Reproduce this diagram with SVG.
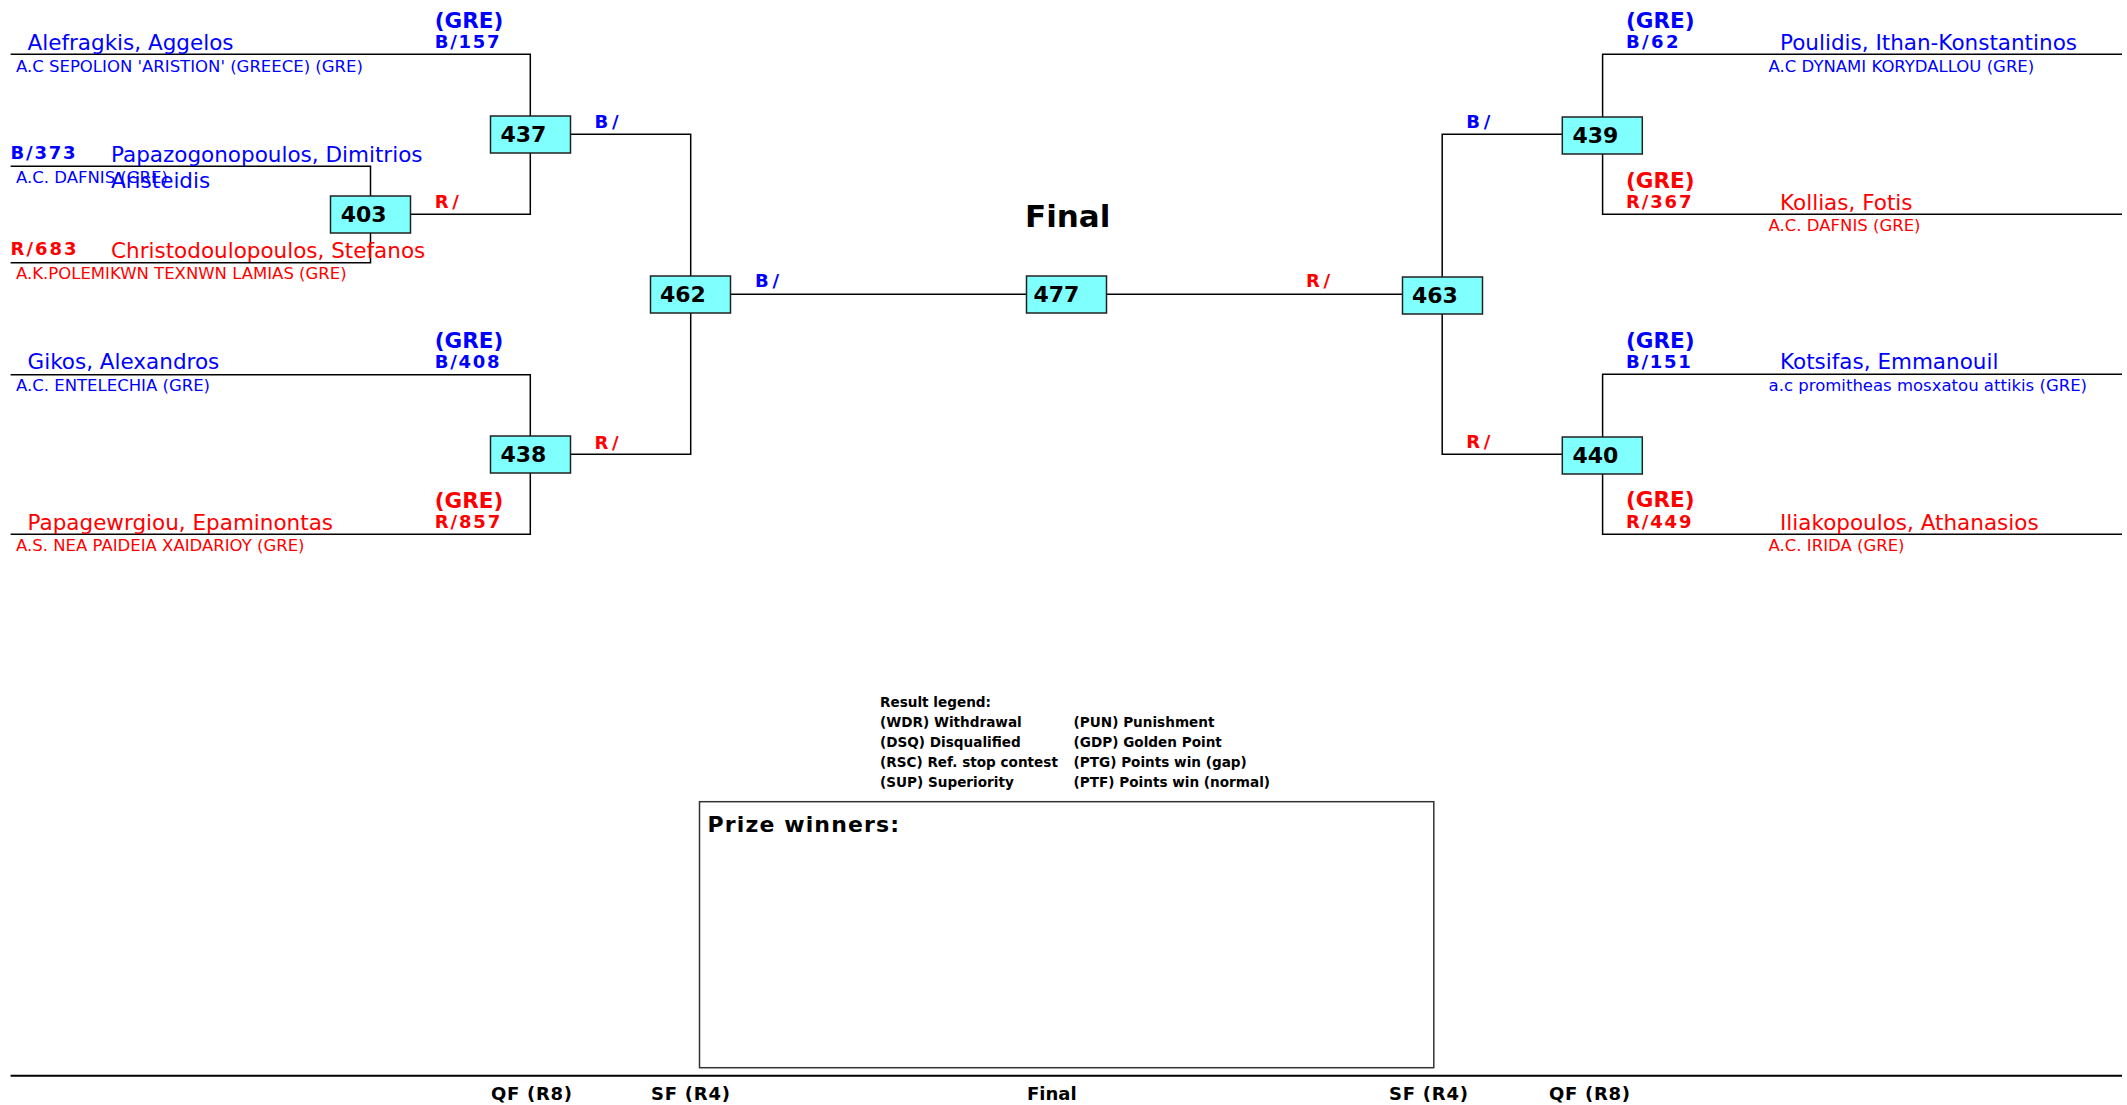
<svg xmlns="http://www.w3.org/2000/svg" width="2127" height="1105" viewBox="0 0 2127 1105">
<style>
text{font-family:"DejaVu Sans",Verdana,sans-serif}
.ln{stroke:#000;stroke-width:1.5;fill:none}
.box{fill:#80FFFF;stroke:#222;stroke-width:1.5}
.num{font-size:22px;font-weight:bold;fill:#000}
.nm{font-size:21.5px}
.cl{font-size:16.5px}
.sd{font-size:18px;font-weight:bold}
.cn{font-size:21.5px;font-weight:bold}
.b{fill:#0000FF}
.r{fill:#FF0000}
.lg{font-size:13.6px;font-weight:bold;fill:#000}
.rd{font-size:18px;font-weight:bold;fill:#000}
</style>
<rect width="2127" height="1105" fill="#fff"/>
<g id="connectors">
<path class="ln" d="M10.6 54.3H530.3V214.3H410"/>
<path class="ln" d="M10.6 166.3H370.5V262.7H10.6"/>
<path class="ln" d="M10.6 374.7H530.3V534.3H10.6"/>
<path class="ln" d="M570.7 134.3H690.7V454.3H570.7"/>
<path class="ln" d="M690.7 294.3H1442.2"/>
<path class="ln" d="M1562.3 134.3H1442.2V454.3H1562.3"/>
<path class="ln" d="M2122 54.3H1602.6V214.3H2122"/>
<path class="ln" d="M2122 374.3H1602.6V534.3H2122"/>
<path d="M10.6 1075.7H2122" stroke="#000" stroke-width="2"/>
</g>
<g id="n437"><rect class="box" x="490.5" y="116" width="80" height="37"/><text class="num" x="500.5" y="141.5">437</text></g>
<g id="n403"><rect class="box" x="330.5" y="196" width="80" height="37"/><text class="num" x="340.7" y="221.5">403</text></g>
<g id="n438"><rect class="box" x="490.5" y="436" width="80" height="37"/><text class="num" x="500.5" y="461.5">438</text></g>
<g id="n462"><rect class="box" x="650.5" y="276" width="80" height="37"/><text class="num" x="660" y="301.5">462</text></g>
<g id="n477"><rect class="box" x="1026.5" y="276" width="80" height="37"/><text class="num" x="1033.5" y="301.5">477</text></g>
<g id="n463"><rect class="box" x="1402.5" y="277" width="80" height="37"/><text class="num" x="1412" y="302.5">463</text></g>
<g id="n439"><rect class="box" x="1562.3" y="117" width="80" height="37"/><text class="num" x="1572.5" y="142.5">439</text></g>
<g id="n440"><rect class="box" x="1562.3" y="437" width="80" height="37"/><text class="num" x="1572.5" y="462.5">440</text></g>
<g id="labels">
<text class="sd b" x="594.6" y="128.3" textLength="24" lengthAdjust="spacing">B/</text>
<text class="sd r" x="434.8" y="208.3" textLength="24" lengthAdjust="spacing">R/</text>
<text class="sd r" x="594.6" y="449.3" textLength="24" lengthAdjust="spacing">R/</text>
<text class="sd b" x="755" y="287.3" textLength="24" lengthAdjust="spacing">B/</text>
<text class="sd r" x="1306" y="287.3" textLength="24" lengthAdjust="spacing">R/</text>
<text class="sd b" x="1466.3" y="128.3" textLength="24" lengthAdjust="spacing">B/</text>
<text class="sd r" x="1466.3" y="448.3" textLength="24" lengthAdjust="spacing">R/</text>
</g>
<g id="competitors-left">
<text class="cn b" x="434.8" y="28.3">(GRE)</text>
<text class="sd b" x="434.8" y="48.3" textLength="64.7" lengthAdjust="spacing">B/157</text>
<text class="nm b" x="27.5" y="50">Alefragkis, Aggelos</text>
<text class="cl b" x="16" y="71.7">A.C SEPOLION 'ARISTION' (GREECE) (GRE)</text>
<text class="sd b" x="10.6" y="159.3" textLength="65" lengthAdjust="spacing">B/373</text>
<text class="nm b" x="111" y="161.7">Papazogonopoulos, Dimitrios</text>
<text class="nm b" x="111" y="187.7">Aristeidis</text>
<text class="cl b" x="16" y="183.3">A.C. DAFNIS (GRE)</text>
<text class="sd r" x="10.6" y="255" textLength="66" lengthAdjust="spacing">R/683</text>
<text class="nm r" x="111" y="257.7">Christodoulopoulos, Stefanos</text>
<text class="cl r" x="16" y="279.3">A.K.POLEMIKWN TEXNWN LAMIAS (GRE)</text>
<text class="cn b" x="434.8" y="348.3">(GRE)</text>
<text class="sd b" x="434.8" y="367.7" textLength="64.7" lengthAdjust="spacing">B/408</text>
<text class="nm b" x="27.5" y="369.3">Gikos, Alexandros</text>
<text class="cl b" x="16" y="390.7">A.C. ENTELECHIA (GRE)</text>
<text class="cn r" x="434.8" y="508.3">(GRE)</text>
<text class="sd r" x="434.8" y="527.7" textLength="65.5" lengthAdjust="spacing">R/857</text>
<text class="nm r" x="27.5" y="530">Papagewrgiou, Epaminontas</text>
<text class="cl r" x="16" y="550.7">A.S. NEA PAIDEIA XAIDARIOY (GRE)</text>
</g>
<g id="competitors-right">
<text class="cn b" x="1626" y="28.3">(GRE)</text>
<text class="sd b" x="1626" y="48.3" textLength="52.5" lengthAdjust="spacing">B/62</text>
<text class="nm b" x="1780" y="50">Poulidis, Ithan-Konstantinos</text>
<text class="cl b" x="1768.6" y="71.7">A.C DYNAMI KORYDALLOU (GRE)</text>
<text class="cn r" x="1626" y="188.3">(GRE)</text>
<text class="sd r" x="1626" y="208.3" textLength="65.5" lengthAdjust="spacing">R/367</text>
<text class="nm r" x="1780" y="210">Kollias, Fotis</text>
<text class="cl r" x="1768.6" y="231">A.C. DAFNIS (GRE)</text>
<text class="cn b" x="1626" y="348.3">(GRE)</text>
<text class="sd b" x="1626" y="367.7" textLength="64.7" lengthAdjust="spacing">B/151</text>
<text class="nm b" x="1780" y="369.3">Kotsifas, Emmanouil</text>
<text class="cl b" x="1768.6" y="390.7">a.c promitheas mosxatou attikis (GRE)</text>
<text class="cn r" x="1626" y="506.7">(GRE)</text>
<text class="sd r" x="1626" y="527.7" textLength="65.5" lengthAdjust="spacing">R/449</text>
<text class="nm r" x="1780" y="530">Iliakopoulos, Athanasios</text>
<text class="cl r" x="1768.6" y="550.7">A.C. IRIDA (GRE)</text>
</g>
<text x="1025" y="227.3" font-size="31" font-weight="bold" fill="#000">Final</text>
<g id="legend">
<text class="lg" x="880" y="707.3">Result legend:</text>
<text class="lg" x="880" y="726.7">(WDR) Withdrawal</text>
<text class="lg" x="880" y="746.7">(DSQ) Disqualified</text>
<text class="lg" x="880" y="766.7">(RSC) Ref. stop contest</text>
<text class="lg" x="880" y="786.7">(SUP) Superiority</text>
<text class="lg" x="1073.6" y="726.7">(PUN) Punishment</text>
<text class="lg" x="1073.6" y="746.7">(GDP) Golden Point</text>
<text class="lg" x="1073.6" y="766.7">(PTG) Points win (gap)</text>
<text class="lg" x="1073.6" y="786.7">(PTF) Points win (normal)</text>
</g>
<g id="prize">
<rect x="699.5" y="801.7" width="734.3" height="266" fill="none" stroke="#333" stroke-width="1.5"/>
<text x="707.6" y="831.7" font-size="22" font-weight="bold" fill="#000" textLength="191.4" lengthAdjust="spacing">Prize winners:</text>
</g>
<g id="rounds">
<text class="rd" x="491" y="1100" textLength="81" lengthAdjust="spacing">QF (R8)</text>
<text class="rd" x="651" y="1100" textLength="79" lengthAdjust="spacing">SF (R4)</text>
<text class="rd" x="1027" y="1100">Final</text>
<text class="rd" x="1389" y="1100" textLength="79" lengthAdjust="spacing">SF (R4)</text>
<text class="rd" x="1549" y="1100" textLength="81" lengthAdjust="spacing">QF (R8)</text>
</g>
</svg>
